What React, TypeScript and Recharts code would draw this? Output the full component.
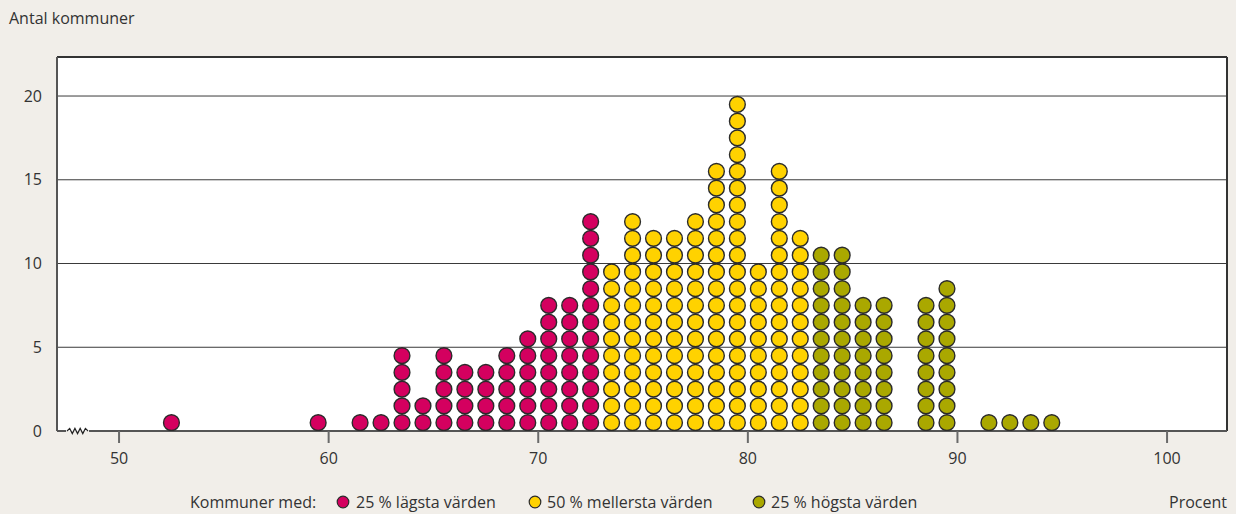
import React from 'react';
import { ScatterChart, Scatter, XAxis, YAxis, CartesianGrid, ReferenceLine } from 'recharts';

// Bin centres (percent) and number of municipalities in each bin
const lowBins = [52.5, 59.5, 61.5, 62.5, 63.5, 64.5, 65.5, 66.5, 67.5, 68.5, 69.5, 70.5, 71.5, 72.5];
const lowCounts = [1, 1, 1, 1, 5, 2, 5, 4, 4, 5, 6, 8, 8, 13];
const midBins = [73.5, 74.5, 75.5, 76.5, 77.5, 78.5, 79.5, 80.5, 81.5, 82.5];
const midCounts = [10, 13, 12, 12, 13, 16, 20, 10, 16, 12];
const highBins = [83.5, 84.5, 85.5, 86.5, 88.5, 89.5, 91.5, 92.5, 93.5, 94.5];
const highCounts = [11, 11, 8, 8, 8, 9, 1, 1, 1, 1];

const xTicks = [50, 60, 70, 80, 90, 100];
const yTicks = [0, 5, 10, 15, 20];

const XMIN = 47.04;
const XMAX = 102.86;
const YMAX = 22.33;
const BREAK_FROM = 47.52;
const BREAK_TO = 48.52;

const PINK = '#d4005f';
const YELLOW = '#ffd200';
const OLIVE = '#aaa800';
const BG = '#f1eee9';
const TEXT = '#333333';
const FONT = '"Open Sans", "Noto Sans", sans-serif';

function stack(bins: number[], counts: number[]) {
  const pts: { x: number; y: number }[] = [];
  bins.forEach((b, i) => {
    for (let k = 0; k < counts[i]; k++) pts.push({ x: b, y: k + 0.5 });
  });
  return pts;
}

const lowData = stack(lowBins, lowCounts);
const midData = stack(midBins, midCounts);
const highData = stack(highBins, highCounts);

const makeDot = (fill: string) => (props: any) => (
  <circle cx={props.cx} cy={props.cy} r={7.9} fill={fill} stroke="#2b2b2b" strokeWidth={1.4} />
);

const ZigZag = (props: any) => {
  const { x1, y1, x2 } = props;
  const n = 8;
  const step = (x2 - x1) / n;
  let d = `M${x1},${y1}`;
  for (let i = 1; i < n; i++) {
    d += ` L${x1 + step * i},${y1 + (i % 2 === 1 ? -2.6 : 2.6)}`;
  }
  d += ` L${x2},${y1}`;
  return (
    <g>
      <rect x={x1 - 1} y={y1 - 2} width={x2 - x1 + 2} height={2} fill="#ffffff" />
      <rect x={x1 - 1} y={y1} width={x2 - x1 + 2} height={2} fill={BG} />
      <path d={d} fill="none" stroke="#222" strokeWidth={1.2} />
    </g>
  );
};

const legendItems = [
  { color: PINK, label: '25 % lägsta värden', cx: 343, tx: 356 },
  { color: YELLOW, label: '50 % mellersta värden', cx: 535, tx: 547 },
  { color: OLIVE, label: '25 % högsta värden', cx: 759, tx: 771 },
];

export default function App() {
  return (
    <div style={{ position: 'absolute', left: 0, top: 0, width: 1236, height: 514, background: BG, fontFamily: FONT }}>
      <ScatterChart width={1236} height={514} margin={{ top: 57, right: 9, bottom: 0, left: 0 }} style={{ fontFamily: FONT }}>
        <CartesianGrid vertical={false} fill="#ffffff" fillOpacity={1} stroke="#3a3a3a" strokeWidth={1} />
        <XAxis
          type="number"
          dataKey="x"
          domain={[XMIN, XMAX]}
          ticks={xTicks}
          allowDataOverflow
          height={83}
          axisLine={false}
          tickLine={{ stroke: '#6a6a6a', strokeWidth: 2 }}
          tickSize={12}
          tickMargin={10}
          tick={{ fontSize: 16, fill: TEXT, fontFamily: FONT }}
        />
        <YAxis
          type="number"
          dataKey="y"
          domain={[0, YMAX]}
          ticks={yTicks}
          allowDataOverflow
          width={57}
          axisLine={{ stroke: '#555', strokeWidth: 2 }}
          tickLine={false}
          tickSize={6}
          tickMargin={9}
          tick={{ fontSize: 16, fill: TEXT, fontFamily: FONT }}
        />
        <Scatter data={lowData} shape={makeDot(PINK)} isAnimationActive={false} />
        <Scatter data={midData} shape={makeDot(YELLOW)} isAnimationActive={false} />
        <Scatter data={highData} shape={makeDot(OLIVE)} isAnimationActive={false} />
        <ReferenceLine y={YMAX} stroke="#333" strokeWidth={2} />
        <ReferenceLine x={XMAX} stroke="#333" strokeWidth={2} />
        <ReferenceLine segment={[{ x: XMIN, y: 0 }, { x: BREAK_FROM, y: 0 }]} stroke="#555" strokeWidth={2} />
        <ReferenceLine segment={[{ x: BREAK_TO, y: 0 }, { x: XMAX, y: 0 }]} stroke="#555" strokeWidth={2} />
        <ReferenceLine segment={[{ x: BREAK_FROM, y: 0 }, { x: BREAK_TO, y: 0 }]} shape={ZigZag} />
      </ScatterChart>
      <svg width={1236} height={514} style={{ position: 'absolute', left: 0, top: 0, pointerEvents: 'none' }}>
        <text x={9} y={24} fontSize={16} fill={TEXT} fontFamily={FONT}>Antal kommuner</text>
        <text x={190} y={508} fontSize={16} fill={TEXT} fontFamily={FONT}>Kommuner med:</text>
        {legendItems.map((it) => (
          <g key={it.label}>
            <circle cx={it.cx} cy={502} r={5.8} fill={it.color} stroke="#2b2b2b" strokeWidth={1.2} />
            <text x={it.tx} y={508} fontSize={16} fill={TEXT} fontFamily={FONT}>{it.label}</text>
          </g>
        ))}
        <text x={1227} y={508} fontSize={16} fill={TEXT} fontFamily={FONT} textAnchor="end">Procent</text>
      </svg>
    </div>
  );
}
